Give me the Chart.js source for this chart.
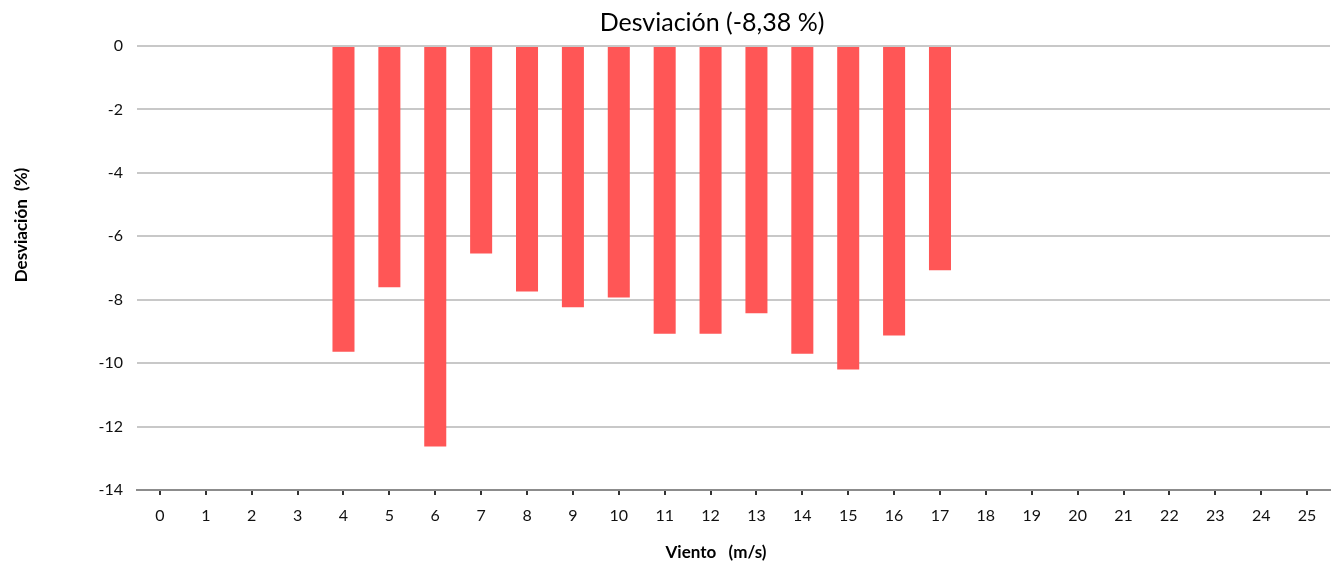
<!DOCTYPE html>
<html>
<head>
<meta charset="utf-8">
<script src="https://cdn.jsdelivr.net/npm/chart.js@4/dist/chart.umd.min.js"></script>
<style>
  html, body { margin: 0; padding: 0; background: #fff; }
  #wrap { width: 1331px; height: 566px; position: relative; }
</style>
</head>
<body>
<div id="wrap"><canvas id="c" width="1331" height="566"></canvas></div>
<script>
const categories = ['0','1','2','3','4','5','6','7','8','9','10','11','12','13','14','15','16','17','18','19','20','21','22','23','24','25'];
const deviation = [null, null, null, null, -9.64, -7.61, -12.63, -6.54, -7.74, -8.24, -7.93, -9.07, -9.07, -8.43, -9.70, -10.20, -9.13, -7.07, null, null, null, null, null, null, null, null];
const yTickValues = [0, -2, -4, -6, -8, -10, -12, -14];
const chartTitle = 'Desviación (-8,38 %)';
const xTitle = 'Viento   (m/s)';
const yTitle = 'Desviación  (%)';

const FONT = 'Lato, "Open Sans", sans-serif';

const textPlugin = {
  id: 'textPlugin',
  afterDraw(chart) {
    const ctx = chart.ctx;
    ctx.save();
    ctx.fillStyle = '#000';
    ctx.textAlign = 'center';
    ctx.textBaseline = 'middle';
    ctx.font = '25px ' + FONT;
    ctx.fillText(chartTitle, 712, 23);
    ctx.font = 'bold 17px ' + FONT;
    ctx.fillText(xTitle, 716, 553);
    ctx.translate(22, 225);
    ctx.rotate(-Math.PI / 2);
    ctx.fillText(yTitle, 0, 0);
    ctx.restore();
  }
};

new Chart(document.getElementById('c'), {
  type: 'bar',
  data: {
    labels: categories,
    datasets: [{
      data: deviation,
      backgroundColor: '#ff5656',
      borderWidth: 0,
      barPercentage: 0.48,
      categoryPercentage: 1.0
    }]
  },
  options: {
    responsive: false,
    animation: false,
    devicePixelRatio: 1,
    layout: { padding: { left: 0, right: 1, top: 46, bottom: 0 } },
    plugins: {
      legend: { display: false },
      tooltip: { enabled: false },
      title: { display: false }
    },
    scales: {
      x: {
        offset: true,
        grid: { offset: false, drawOnChartArea: false, drawTicks: true, tickLength: 5, color: '#333', lineWidth: 2 },
        border: { display: true, color: '#8c8c8c', width: 2 },
        ticks: { color: '#111', font: { family: FONT, size: 16 }, padding: 11, maxRotation: 0, autoSkip: false },
        afterFit(s) { s.height = 76; }
      },
      y: {
        min: -14,
        max: 0,
        afterBuildTicks(s) { s.ticks = yTickValues.map(v => ({ value: v })); },
        grid: { color: '#c8c8c8', lineWidth: 2, drawTicks: false },
        border: { display: false },
        ticks: { color: '#111', font: { family: FONT, size: 16 }, padding: 14 },
        afterFit(s) { s.width = 137; }
      }
    }
  },
  plugins: [textPlugin]
});
</script>
</body>
</html>
